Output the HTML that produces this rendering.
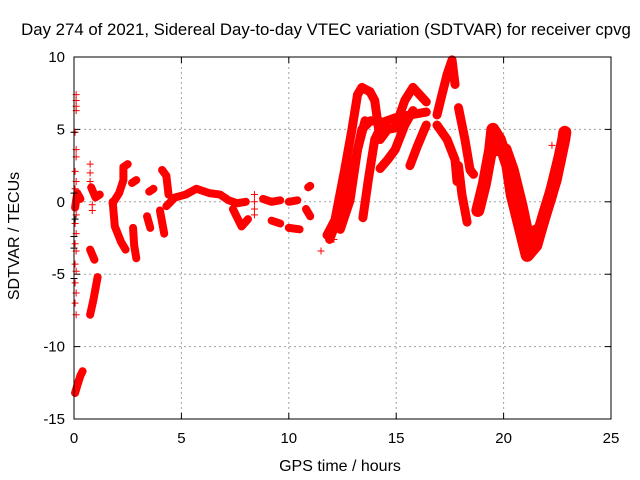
<!DOCTYPE html>
<html><head><meta charset="utf-8"><style>
html,body{margin:0;padding:0;background:#fff;}
svg{display:block;font-family:"Liberation Sans",sans-serif;}
</style></head><body>
<svg id="chart" width="640" height="480">
<text x="326" y="35" text-anchor="middle" font-size="16.8">Day 274 of 2021, Sidereal Day-to-day VTEC variation (SDTVAR) for receiver cpvg</text>
<text x="340" y="471" text-anchor="middle" font-size="16">GPS time / hours</text>
<text transform="translate(19,236) rotate(-90)" text-anchor="middle" font-size="16">SDTVAR / TECUs</text>
<g id="grid"></g>
<g id="ticks"></g>
<g id="marks"></g>
<rect x="74" y="57" width="537" height="362" fill="none" stroke="#000" stroke-width="1"/>
</svg>
<script>
const xTicks=[0,5,10,15,20,25];
const yTicks=[10,5,0,-5,-10,-15];
const scatterPts=[[0.1,7.4],[0.1,7.0],[0.1,6.6],[0.1,6.3],[0.05,4.8],[0.1,3.6],[0.1,3.1],[0.05,2.1],[0.1,1.4],[0.05,0.9],[0.1,-0.9],[0.05,-1.5],[0.1,-2.2],[0.05,-2.9],[0.1,-3.4],[0.05,-4.3],[0.1,-4.8],[0.05,-5.6],[0.1,-6.3],[0.05,-7.0],[0.1,-7.8],[0.75,2.6],[0.75,2.0],[0.75,1.4],[0.85,-0.2],[0.85,-0.6],[8.4,0.5],[8.4,0.0],[8.4,-0.5],[8.4,-0.9],[11.5,-3.4],[22.25,3.9],[12.1,-2.6]];
const blackPts=[[0.0,4.8],[0.0,0.6],[0.0,-2.4],[0.0,-3.2],[0.0,-5.3],[0.05,-1.2]];
const t1=[[0.05,-13.2],[0.15,-12.7],[0.3,-12.0],[0.4,-11.7]];
const t2=[[0.05,-0.4],[0.15,0.6],[0.3,0.2]];
const t3=[[0.75,-3.3],[0.95,-4.0]];
const t4=[[0.75,-7.8],[0.9,-6.8],[1.1,-5.2]];
const t5=[[0.8,1.0],[1.0,0.3],[1.2,0.5]];
const t6=[[1.8,0.0],[1.9,-1.7],[2.2,-2.8],[2.4,-3.3]];
const t7=[[1.8,-0.1],[2.1,0.6],[2.3,1.5],[2.3,2.4],[2.5,2.6]];
const t8=[[2.75,-1.8],[2.8,-3.0],[2.9,-3.9]];
const t9=[[2.7,1.3],[2.9,1.5]];
const t10=[[3.4,-1.0],[3.55,-1.8]];
const t10b=[[3.5,0.7],[3.7,0.9]];
const t11=[[4.0,-0.6],[4.2,-2.2]];
const t12=[[4.1,2.2],[4.3,1.8],[4.4,0.5]];
const t13=[[4.3,-0.3],[4.7,0.3],[5.2,0.5],[5.7,0.9],[6.3,0.6],[6.8,0.5],[7.2,0.1],[7.6,-0.1],[8.0,0.0]];
const t14=[[7.4,-0.5],[7.8,-1.7],[8.1,-1.2]];
const t15=[[8.8,0.2],[9.2,0.0],[9.6,0.1]];
const t15b=[[9.2,-1.3],[9.6,-1.5]];
const t16=[[10.0,0.0],[10.4,0.1]];
const t16b=[[10.0,-1.8],[10.5,-1.9]];
const t17=[[10.9,1.0],[11.0,1.1]];
const t17b=[[10.8,-0.5],[11.0,-1.0]];
const s1=[[11.78,-2.3],[12.15,-1.25],[12.6,2.2],[12.94,5.0],[13.2,7.4],[13.4,7.9],[13.78,7.6]];
const s2=[[13.78,7.6],[14.0,7.0],[14.25,4.3],[14.6,5.0],[14.95,5.1],[15.4,7.0],[15.78,7.9],[16.4,6.9]];
const s3=[[11.9,-2.6],[12.6,0.1],[13.1,2.9],[13.4,5.0],[13.8,5.6],[14.4,5.5],[14.95,5.8],[15.64,6.0],[16.4,6.2]];
const s4=[[12.4,-1.9],[12.85,0.1],[13.2,3.6],[13.55,5.6]];
const s5=[[13.45,-1.1],[13.7,1.5],[14.0,4.3],[14.4,5.5]];
const s6=[[14.25,2.3],[14.6,2.9],[14.95,3.6],[15.4,5.3],[15.78,6.3]];
const s7=[[15.64,2.5],[16.0,3.9],[16.4,5.3]];
const u1=[[16.9,6.0],[17.13,7.4],[17.37,8.8],[17.6,9.8],[17.74,8.1]];
const u2=[[16.9,5.3],[17.37,4.3],[17.74,2.9],[17.83,1.4]];
const u3=[[17.9,6.5],[18.2,4.3],[18.44,2.2],[18.6,1.9]];
const u4=[[17.9,2.5],[18.06,0.5],[18.3,-1.4]];
const v1=[[18.8,-0.6],[19.1,1.2],[19.4,3.6],[19.5,5.0],[19.8,4.3],[20.2,2.5],[20.4,0.5],[20.8,-1.9],[21.1,-3.7],[21.5,-3.0],[21.9,-0.9],[22.4,1.5],[22.8,4.3],[22.85,4.8]];
const v2=[[19.6,3.6],[20.07,3.6],[20.4,2.2],[20.8,-0.2],[21.1,-2.3],[21.7,-1.9],[22.2,0.5],[22.6,2.9]];
const thinTracks=[t1,t2,t3,t4,t5,t6,t7,t8,t9,t10,t10b,t11,t12,t13,t14,t15,t15b,t16,t16b,t17,t17b];
const midTracks=[s1,s2,s3,s4,s5,s6,s7,u1,u2,u3,u4];
const wideTracks=[v1,v2];

const X0=74,X1=611,Y0=419,Y1=57;
function sx(h){return X0+(h-0)/(25-0)*(X1-X0);}
function sy(v){return Y0-(v+15)/(25)*(Y0-Y1);}
const NS='http://www.w3.org/2000/svg';
function mk(tag,attrs,parent){const e=document.createElementNS(NS,tag);for(const k in attrs)e.setAttribute(k,attrs[k]);parent.appendChild(e);return e;}
const grid=document.getElementById('grid'),ticks=document.getElementById('ticks'),marks=document.getElementById('marks');
xTicks.forEach(t=>{
  const x=sx(t);
  if(t>0&&t<25){const g=mk('line',{x1:x,x2:x,y1:Y1,y2:Y0,stroke:'#a0a0a0','stroke-dasharray':'2,3'},grid);
  
  }
  mk('line',{x1:x,x2:x,y1:Y0,y2:Y0-6,stroke:'#000'},ticks);
  mk('line',{x1:x,x2:x,y1:Y1,y2:Y1+6,stroke:'#000'},ticks);
  const l=mk('text',{x:x,y:Y0+24,'text-anchor':'middle','font-size':'15'},ticks);l.textContent=t;
  
  
});
yTicks.forEach(t=>{
  const y=sy(t);
  if(t>-15&&t<10){const g=mk('line',{x1:X0,x2:X1,y1:y,y2:y,stroke:'#a0a0a0','stroke-dasharray':'2,3'},grid);
  
  }
  mk('line',{x1:X0,x2:X0+6,y1:y,y2:y,stroke:'#000'},ticks);
  mk('line',{x1:X1,x2:X1-6,y1:y,y2:y,stroke:'#000'},ticks);
  const l=mk('text',{x:X0-9,y:y+5,'text-anchor':'end','font-size':'15'},ticks);l.textContent=t;
  
  
});
function plus(h,v,col){
  const x=sx(h),y=sy(v);
  const p=mk('path',{d:`M${x-3.5},${y}h7M${x},${y-3.5}v7`,stroke:col,'stroke-width':1},marks);
  
  
}
function drawTrack(tr,w){
  const pl=mk('polyline',{points:tr.map(p=>sx(p[0])+','+sy(p[1])).join(' '),fill:'none',stroke:'#ff0000','stroke-width':w,'stroke-linejoin':'round','stroke-linecap':'round'},marks);
  
  
  tr.forEach(p=>plus(p[0],p[1],'#ff0000'));
}
thinTracks.forEach(tr=>drawTrack(tr,8));
midTracks.forEach(tr=>drawTrack(tr,9));
wideTracks.forEach(tr=>drawTrack(tr,13));
scatterPts.forEach(p=>plus(p[0],p[1],'#ff0000'));
blackPts.forEach(p=>plus(p[0],p[1],'#000000'));
</script>
</body></html>
